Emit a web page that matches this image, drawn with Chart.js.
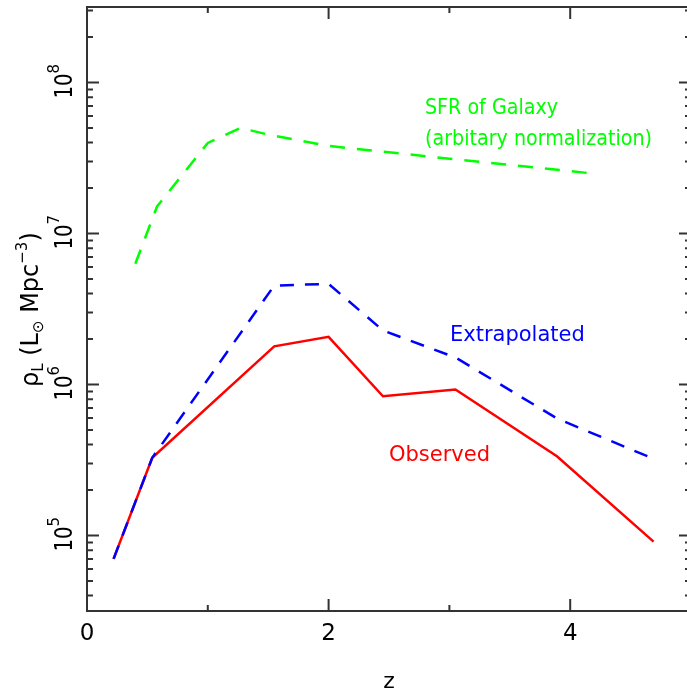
<!DOCTYPE html>
<html>
<head>
<meta charset="utf-8">
<script src="https://cdn.jsdelivr.net/npm/chart.js@4.4.1/dist/chart.umd.min.js"></script>
<style>
  html, body { margin: 0; padding: 0; background: #fff; overflow: hidden; }
  #wrap { width: 687px; height: 690px; overflow: hidden; }
</style>
</head>
<body>
<div id="wrap"><canvas id="chart" width="691" height="690"></canvas></div>
<script>
// luminosity density vs redshift
const zObserved = [0.22, 0.54, 1.55, 2.0, 2.45, 3.05, 3.89, 4.69];
const rhoObserved = [7.0e4, 3.27e5, 1.79e6, 2.07e6, 8.36e5, 9.27e5, 3.35e5, 9.1e4];

const zExtrapolated = [0.22, 0.54, 1.55, 2.0, 2.45, 3.05, 3.89, 4.69];
const rhoExtrapolated = [7.0e4, 3.27e5, 4.52e6, 4.64e6, 2.28e6, 1.51e6, 5.96e5, 3.22e5];

const zSfr = [0.40, 0.58, 1.0, 1.27, 1.5, 2.0, 3.0, 4.2];
const rhoSfr = [6.3e6, 1.51e7, 3.98e7, 5.0e7, 4.52e7, 3.8e7, 3.13e7, 2.49e7];

// axes
const xMajorTicks = [0, 2, 4];
const xMinorTicks = [1, 3, 5];
const yDecades = [5, 6, 7, 8];
const xTitle = 'z';

const FONT = '"DejaVu Sans", sans-serif';

function toPoints(xs, ys) {
    return xs.map((x, i) => ({ x: x, y: ys[i] }));
}

function drawPowerLabel(ctx, px, py, exp) {
    ctx.save();
    ctx.translate(px, py);
    ctx.rotate(-Math.PI / 2);
    ctx.textAlign = 'left';
    ctx.textBaseline = 'alphabetic';
    ctx.font = '24px ' + FONT;
    ctx.fillText('10', 0, 0, 25);
    ctx.font = '15px ' + FONT;
    ctx.fillText(String(exp), 25, -13);
    ctx.restore();
}

function drawYTitle(ctx, px, py, targetLen) {
    const parts = [
        ['\u03C1', 24, 0],
        ['L', 15, 5],
        [' (L', 24, 0],
        ['\u2299', 15, 5],
        [' Mpc', 24, 0],
        ['\u22123', 15, -11],
        [')', 24, 0]
    ];
    ctx.save();
    ctx.translate(px, py);
    ctx.rotate(-Math.PI / 2);
    ctx.textAlign = 'left';
    ctx.textBaseline = 'alphabetic';
    let total = 0;
    parts.forEach(p => {
        ctx.font = p[1] + 'px ' + FONT;
        total += ctx.measureText(p[0]).width;
    });
    if (total > targetLen) ctx.scale(targetLen / total, 1);
    let x = 0;
    parts.forEach(p => {
        ctx.font = p[1] + 'px ' + FONT;
        ctx.fillText(p[0], x, p[2]);
        x += ctx.measureText(p[0]).width;
    });
    ctx.restore();
}

const framePlugin = {
    id: 'frame',
    afterDraw(chart) {
        const ctx = chart.ctx;
        const area = chart.chartArea;
        const xs = chart.scales.x;
        const ys = chart.scales.y;

        ctx.save();
        ctx.strokeStyle = '#333';
        ctx.lineWidth = 2;
        ctx.strokeRect(area.left, area.top, area.right - area.left, area.bottom - area.top);

        // ticks point inward on all four sides
        ctx.beginPath();
        const xTick = (v, len) => {
            const px = xs.getPixelForValue(v);
            ctx.moveTo(px, area.bottom); ctx.lineTo(px, area.bottom - len);
            ctx.moveTo(px, area.top); ctx.lineTo(px, area.top + len);
        };
        xMajorTicks.forEach(v => xTick(v, 12));
        xMinorTicks.forEach(v => xTick(v, 6));

        const yTick = (v, len) => {
            if (v < ys.min || v > ys.max) return;
            const py = ys.getPixelForValue(v);
            ctx.moveTo(area.left, py); ctx.lineTo(area.left + len, py);
            ctx.moveTo(area.right, py); ctx.lineTo(area.right - len, py);
        };
        for (let d = 4; d <= 8; d++) {
            for (let m = 1; m <= 9; m++) {
                yTick(m * Math.pow(10, d), m === 1 ? 12 : 6);
            }
        }
        ctx.stroke();

        // tick labels
        ctx.fillStyle = '#000';
        ctx.font = '23px ' + FONT;
        ctx.textAlign = 'center';
        ctx.textBaseline = 'alphabetic';
        xMajorTicks.forEach(v => {
            ctx.fillText(String(v), xs.getPixelForValue(v), 640);
        });
        yDecades.forEach(d => {
            drawPowerLabel(ctx, 72, ys.getPixelForValue(Math.pow(10, d)) + 16, d);
        });

        // axis titles
        ctx.font = '22px ' + FONT;
        ctx.textAlign = 'center';
        ctx.fillText(xTitle, (area.left + area.right) / 2, 688);
        drawYTitle(ctx, 38, 387, 174);

        // curve labels
        ctx.textAlign = 'left';
        ctx.font = '21px ' + FONT;
        ctx.fillStyle = '#00ff00';
        ctx.fillText('SFR of Galaxy', 425, 114, 133);
        ctx.fillText('(arbitary normalization)', 425, 145, 227);
        ctx.fillStyle = '#0000ff';
        ctx.fillText('Extrapolated', 450, 341, 140);
        ctx.fillStyle = '#ff0000';
        ctx.fillText('Observed', 389, 461, 102);
        ctx.restore();
    }
};

new Chart(document.getElementById('chart'), {
    type: 'line',
    data: {
        datasets: [
            {
                label: 'Extrapolated',
                data: toPoints(zExtrapolated, rhoExtrapolated),
                borderColor: '#0000ff',
                borderWidth: 2.5,
                borderDash: [14, 11],
                order: 0
            },
            {
                label: 'Observed',
                data: toPoints(zObserved, rhoObserved),
                borderColor: '#ff0000',
                borderWidth: 2.5,
                order: 1
            },
            {
                label: 'SFR of Galaxy',
                data: toPoints(zSfr, rhoSfr),
                borderColor: '#00ff00',
                borderWidth: 2.5,
                borderDash: [15, 12],
                order: 2
            }
        ]
    },
    options: {
        responsive: false,
        animation: false,
        devicePixelRatio: 1,
        layout: { padding: { left: 87, top: 7, right: 0, bottom: 79 } },
        elements: {
            point: { radius: 0, hoverRadius: 0 },
            line: { tension: 0, fill: false }
        },
        scales: {
            x: { type: 'linear', min: 0, max: 5, display: false },
            y: { type: 'logarithmic', min: Math.pow(10, 4.5), max: Math.pow(10, 8.5), display: false }
        },
        plugins: {
            legend: { display: false },
            tooltip: { enabled: false }
        }
    },
    plugins: [framePlugin]
});
</script>
</body>
</html>
